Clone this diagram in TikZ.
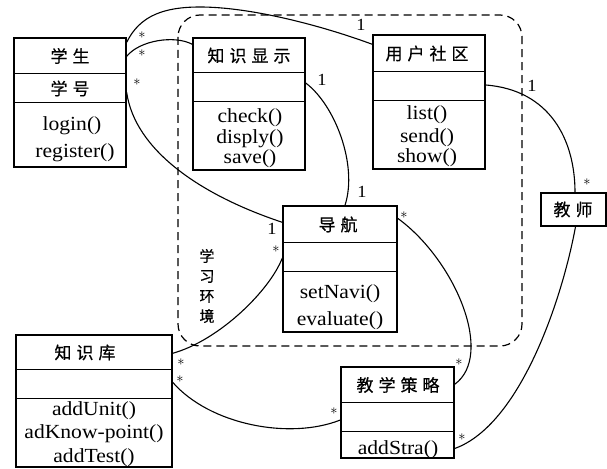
\documentclass[tikz,border=0pt]{standalone}
\usepackage{fontspec}
\setmainfont{Liberation Serif}[FakeStretch=1.08]
\newfontfamily\cjk{Noto Sans CJK SC}[FakeBold=0.6]
\newcommand\zgap{\hspace{5pt}}
\begin{document}
\begin{tikzpicture}[x=1pt,y=-1pt,
  box/.style={draw, line width=1.4pt, inner sep=0pt},
  rule/.style={line width=1.4pt},
  meth/.style={font=\fontsize{20}{20}\selectfont, anchor=base, inner sep=0pt},
  ttl/.style={font=\cjk\fontsize{17}{17}\selectfont, inner sep=0pt},
  mult/.style={font=\fontsize{17}{17}\selectfont, inner sep=0pt},
  star/.style={font=\fontsize{15}{15}\selectfont, inner sep=0pt},
  assoc/.style={line width=1.1pt},
  env/.style={dash pattern=on 8pt off 5pt, rounded corners=22pt, line width=1.2pt}]
\useasboundingbox (0,0) rectangle (607,468);

% learning environment
\draw[env] (178,15) rectangle (522,346);
\node[font=\cjk\fontsize{15}{20}\selectfont, align=center, inner sep=0pt] (envlbl) at (207,286) {学\\习\\环\\境};

% 学生
\node[box, minimum width=112pt, minimum height=129pt] (stu) at (70,102.5) {};
\draw[rule] ([yshift=-36pt]stu.north west) -- ([yshift=-36pt]stu.north east);
\draw[rule] ([yshift=-65pt]stu.north west) -- ([yshift=-65pt]stu.north east);
\node[ttl] (stut) at (70,56) {学\zgap 生};
\node[ttl] (stua) at (70,88.5) {学\zgap 号};
\node[meth] (stum1) at (72,130) {login()};
\node[meth] (stum2) at (75,157) {register()};

% 知识显示
\node[box, minimum width=112pt, minimum height=132pt] (kd) at (249,104) {};
\draw[rule] ([yshift=-35pt]kd.north west) -- ([yshift=-35pt]kd.north east);
\draw[rule] ([yshift=-64pt]kd.north west) -- ([yshift=-64pt]kd.north east);
\node[ttl] (kdt) at (249,55.5) {知\zgap 识\zgap 显\zgap 示};
\node[meth] (kdm1) at (250,122) {check()};
\node[meth] (kdm2) at (250,143) {disply()};
\node[meth] (kdm3) at (250,163) {save()};

% 用户社区
\node[box, minimum width=112pt, minimum height=134pt] (uc) at (429,102) {};
\draw[rule] ([yshift=-37pt]uc.north west) -- ([yshift=-37pt]uc.north east);
\draw[rule] ([yshift=-66pt]uc.north west) -- ([yshift=-66pt]uc.north east);
\node[ttl] (uct) at (427,53.5) {用\zgap 户\zgap 社\zgap 区};
\node[meth] (ucm1) at (427,120) {list()};
\node[meth] (ucm2) at (427,142) {send()};
\node[meth] (ucm3) at (427,162) {show()};

% 教师
\node[box, minimum width=65pt, minimum height=33pt] (tea) at (573.5,209.5) {};
\node[ttl] (teat) at (573,209.5) {教\zgap 师};

% 导航
\node[box, minimum width=114pt, minimum height=126pt] (nav) at (340,269) {};
\draw[rule] ([yshift=-37pt]nav.north west) -- ([yshift=-37pt]nav.north east);
\draw[rule] ([yshift=-66pt]nav.north west) -- ([yshift=-66pt]nav.north east);
\node[ttl] (navt) at (338,224.5) {导\zgap 航};
\node[meth] (navm1) at (340,298) {setNavi()};
\node[meth] (navm2) at (340,325) {evaluate()};

% 知识库
\node[box, minimum width=156pt, minimum height=132pt] (kb) at (94,401) {};
\draw[rule] ([yshift=-35pt]kb.north west) -- ([yshift=-35pt]kb.north east);
\draw[rule] ([yshift=-64pt]kb.north west) -- ([yshift=-64pt]kb.north east);
\node[ttl] (kbt) at (85,352.5) {知\zgap 识\zgap 库};
\node[meth] (kbm1) at (94,415) {addUnit()};
\node[meth] (kbm2) at (94,438) {adKnow-point()};
\node[meth] (kbm3) at (94,462) {addTest()};

% 教学策略
\node[box, minimum width=113pt, minimum height=91pt] (ts) at (397.5,412.5) {};
\draw[rule] ([yshift=-36pt]ts.north west) -- ([yshift=-36pt]ts.north east);
\draw[rule] ([yshift=-65pt]ts.north west) -- ([yshift=-65pt]ts.north east);
\node[ttl] (tst) at (398,385) {教\zgap 学\zgap 策\zgap 略};
\node[meth] (tsm1) at (398,454) {addStra()};

% associations
\draw[assoc] ([yshift=-5pt]stu.north east) .. controls (140,15) and (165,7) .. (200,7)
  .. controls (250,7) and (320,25) .. ([yshift=-10pt]uc.north west);
\draw[assoc] ([yshift=-19pt]stu.north east) .. controls (140,40) and (175,35) .. ([yshift=-7pt]kd.north west);
\draw[assoc] ([yshift=10pt]stu.east) .. controls (135,150) and (200,195) .. ([yshift=-17pt]nav.north west);
\draw[assoc] ([yshift=21pt]kd.east) .. controls (335,105) and (358,165) .. ([xshift=5pt]nav.north);
\draw[assoc] ([yshift=17pt]uc.east) .. controls (550,90) and (575,140) .. ([xshift=1.5pt]tea.north);
\draw[assoc] ([xshift=2pt]tea.south) .. controls (562,300) and (520,425) .. ([yshift=-36pt]ts.east);
\draw[assoc] ([yshift=-13pt]nav.north east) .. controls (455,260) and (495,355) .. ([yshift=-18pt]ts.north east);
\draw[assoc] ([yshift=-19pt]kb.north east) .. controls (220,340) and (270,290) .. ([yshift=11pt]nav.west);
\draw[assoc] ([yshift=-48pt]kb.north east) .. controls (210,425) and (290,440) .. ([yshift=-7.5pt]ts.west);

% multiplicities
\node[star] (s1) at (142,35) {$\ast$};
\node[star] (s2) at (142,53) {$\ast$};
\node[star] (s3) at (137,82) {$\ast$};
\node[mult] (m1) at (361,25) {1};
\node[mult] (m2) at (322,80) {1};
\node[mult] (m3) at (362,192) {1};
\node[mult] (m4) at (272,229) {1};
\node[star] (s4) at (276,249) {$\ast$};
\node[star] (s5) at (404,215) {$\ast$};
\node[star] (s6) at (459,362) {$\ast$};
\node[mult] (m5) at (532,86) {1};
\node[star] (s7) at (587,182) {$\ast$};
\node[star] (s8) at (462,437) {$\ast$};
\node[star] (s9) at (181,362) {$\ast$};
\node[star] (s10) at (180,379) {$\ast$};
\node[star] (s11) at (334,411) {$\ast$};
\end{tikzpicture}
\end{document}
